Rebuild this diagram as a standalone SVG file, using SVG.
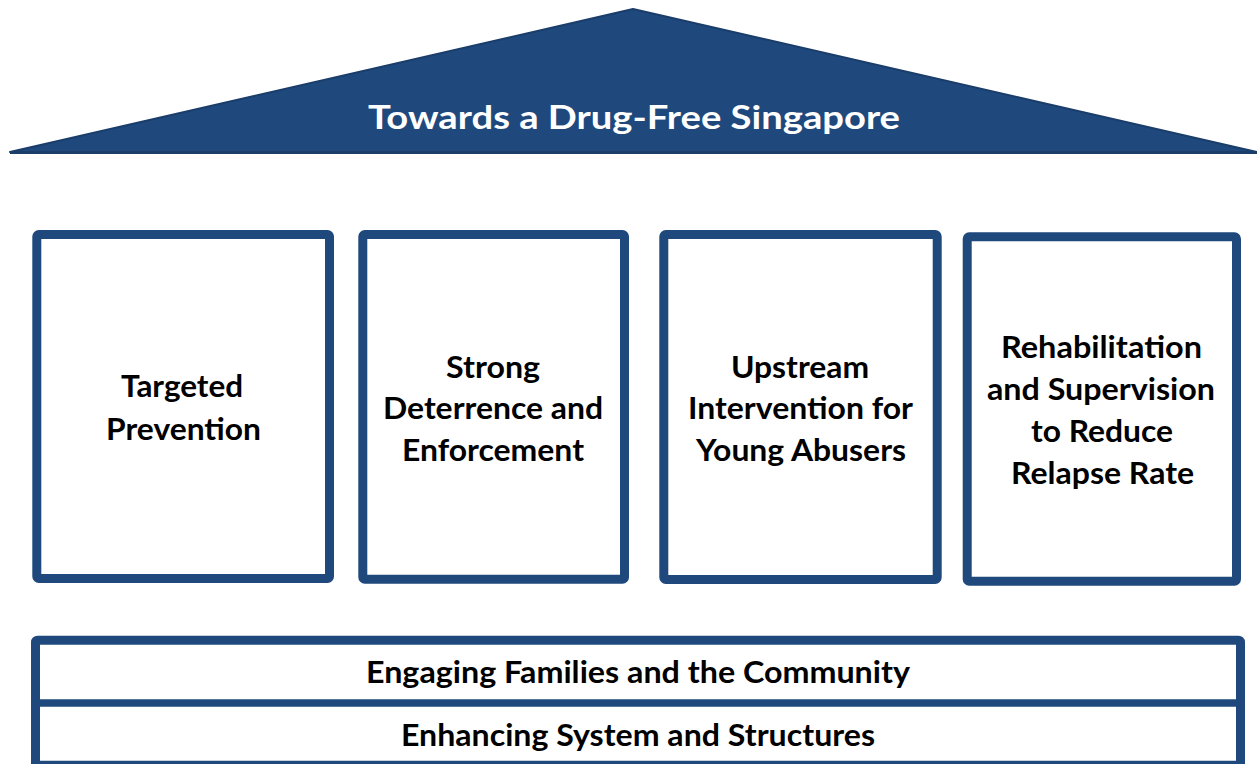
<svg xmlns="http://www.w3.org/2000/svg" width="1257" height="764" viewBox="0 0 1257 764">
<style>
.pillar{fill:#ffffff;stroke:#1F497D;stroke-width:9}
.lbl{font-family:Lato,"Open Sans",sans-serif;font-weight:bold;font-size:31px;fill:#000;text-anchor:middle}
.title{font-family:Lato,"Open Sans",sans-serif;font-weight:bold;font-size:32px;fill:#ffffff;text-anchor:middle}
</style>
<rect width="1257" height="764" fill="#ffffff"/>
<g id="roof">
<polygon points="633,9 10,152 1257,152" fill="#1F497D" stroke="#1A3D6A" stroke-width="2" stroke-linejoin="round"/>
<line x1="10" y1="152.5" x2="1257" y2="152.5" stroke="#1A3D6A" stroke-width="3"/>
<text class="title" x="634" y="129" textLength="532" lengthAdjust="spacingAndGlyphs">Towards a Drug-Free Singapore</text>
</g>
<g id="pillar1">
<rect class="pillar" x="36.8" y="234.5" width="292.7" height="344" rx="2"/>
<text class="lbl" x="182" y="397" textLength="122" lengthAdjust="spacingAndGlyphs">Targeted</text>
<text class="lbl" x="183.5" y="440" textLength="155" lengthAdjust="spacingAndGlyphs">Prevention</text>
</g>
<g id="pillar2">
<rect class="pillar" x="362.8" y="234.5" width="261.7" height="344.7" rx="2"/>
<text class="lbl" x="493" y="378" textLength="94" lengthAdjust="spacingAndGlyphs">Strong</text>
<text class="lbl" x="493" y="419" textLength="220" lengthAdjust="spacingAndGlyphs">Deterrence and</text>
<text class="lbl" x="493" y="461" textLength="182" lengthAdjust="spacingAndGlyphs">Enforcement</text>
</g>
<g id="pillar3">
<rect class="pillar" x="663.8" y="234.5" width="273.4" height="345" rx="2"/>
<text class="lbl" x="800" y="378" textLength="138" lengthAdjust="spacingAndGlyphs">Upstream</text>
<text class="lbl" x="800.5" y="419" textLength="225" lengthAdjust="spacingAndGlyphs">Intervention for</text>
<text class="lbl" x="801" y="461" textLength="210" lengthAdjust="spacingAndGlyphs">Young Abusers</text>
</g>
<g id="pillar4">
<rect class="pillar" x="967.2" y="236.8" width="269.3" height="344.4" rx="2"/>
<text class="lbl" x="1101.5" y="358" textLength="201" lengthAdjust="spacingAndGlyphs">Rehabilitation</text>
<text class="lbl" x="1101" y="400" textLength="228" lengthAdjust="spacingAndGlyphs">and Supervision</text>
<text class="lbl" x="1102" y="442" textLength="142" lengthAdjust="spacingAndGlyphs">to Reduce</text>
<text class="lbl" x="1102.5" y="484" textLength="183" lengthAdjust="spacingAndGlyphs">Relapse Rate</text>
</g>
<g id="foundation">
<rect class="pillar" x="35.5" y="640.2" width="1205" height="125" rx="2"/>
<line x1="35.5" y1="703" x2="1240.5" y2="703" stroke="#1F497D" stroke-width="7.5"/>
<text class="lbl" x="638" y="683" textLength="544" lengthAdjust="spacingAndGlyphs">Engaging Families and the Community</text>
<text class="lbl" x="638" y="746" textLength="474" lengthAdjust="spacingAndGlyphs">Enhancing System and Structures</text>
</g>
<g id="connectors"></g>
</svg>
